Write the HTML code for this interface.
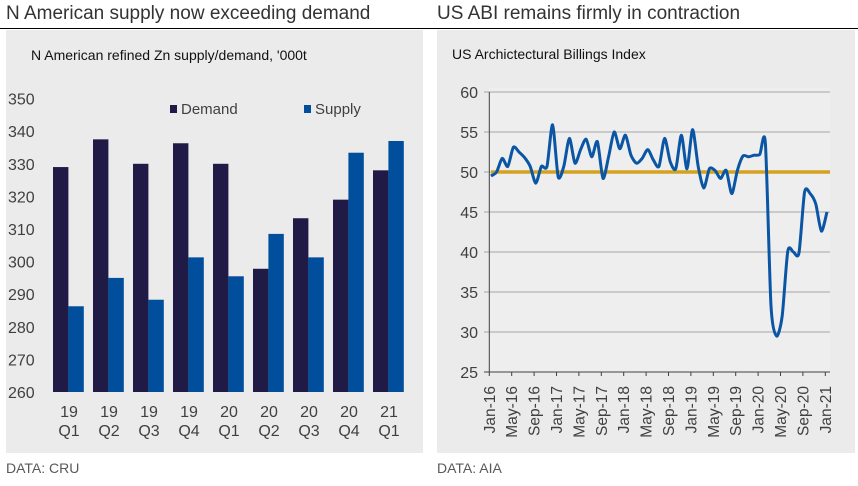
<!DOCTYPE html>
<html><head><meta charset="utf-8"><style>
body{margin:0;width:858px;height:486px;background:#fff;font-family:"Liberation Sans",sans-serif;overflow:hidden;position:relative}
.t{position:absolute;top:3px;font-size:19px;color:#333}
.d{position:absolute;top:460px;font-size:14px;color:#595959}
svg{position:absolute;left:0;top:0}
</style></head><body>
<div class="t" style="left:6px">N American supply now exceeding demand</div>
<div class="t" style="left:437px">US ABI remains firmly in contraction</div>
<div class="d" style="left:6px">DATA: CRU</div>
<div class="d" style="left:437px">DATA: AIA</div>
<svg id="s" width="858" height="486">
<line x1="0" y1="28.5" x2="858" y2="28.5" stroke="#000" stroke-width="1"/>
<rect x="6" y="30" width="417" height="423" fill="#ebebeb"/>
<rect x="437" y="30" width="418" height="423" fill="#ebebeb"/>
<text x="31" y="60" font-size="14" fill="#111">N American refined Zn supply/demand, '000t</text>
<text x="452" y="59" font-size="14" fill="#111">US Archictectural Billings Index</text>
<g id="L"></g><g id="R"></g>
</svg>
<script>
const cats1=["19","19","19","19","20","20","20","20","21"];
const cats2=["Q1","Q2","Q3","Q4","Q1","Q2","Q3","Q4","Q1"];
const demand=[329,337.5,330,336.3,330,297.8,313.3,319,328];
const supply=[286.3,295,288.3,301.3,295.5,308.5,301.3,333.4,337];
const leftTicks=[260,270,280,290,300,310,320,330,340,350];
const abi=[49.5,50.0,51.7,50.7,53.1,52.5,51.8,50.7,48.6,50.7,50.7,55.9,49.4,50.7,54.2,51.1,52.8,54.1,51.9,53.8,49.2,51.9,55.0,52.9,54.6,52.1,51.1,51.7,52.8,51.5,50.7,54.2,51.3,50.4,54.6,50.4,55.3,50.7,48.0,50.4,50.2,49.2,50.2,47.3,50.2,52.0,51.9,52.1,52.2,53.6,33.3,29.5,32.0,40.1,40.0,39.9,47.5,47.3,46.0,42.6,45.0];
const rightTicks=[25,30,35,40,45,50,55,60];
const monthLabels=["Jan-16","May-16","Sep-16","Jan-17","May-17","Sep-17","Jan-18","May-18","Sep-18","Jan-19","May-19","Sep-19","Jan-20","May-20","Sep-20","Jan-21"];
const NS="http://www.w3.org/2000/svg";
function mk(p,t,a){const e=document.createElementNS(NS,t);for(const k in a)e.setAttribute(k,a[k]);p.appendChild(e);return e;}
// left chart
const L=document.getElementById('L');
const yL=v=>392-(v-260)*32.6/10;
const gx=i=>53+i*40;
leftTicks.forEach(v=>{const t=mk(L,'text',{x:8,y:yL(v)+6,'font-size':16,fill:'#404040'});t.textContent=v;

});
demand.forEach((v,i)=>{const r=mk(L,'rect',{x:gx(i),y:yL(v),width:15.4,height:392-yL(v),fill:'#1f1a46'});

});
supply.forEach((v,i)=>{const r=mk(L,'rect',{x:gx(i)+15.4,y:yL(v),width:15.4,height:392-yL(v),fill:'#014f9c'});

});
cats1.forEach((c,i)=>{const a=mk(L,'text',{x:gx(i)+16,y:417,'font-size':16,fill:'#404040','text-anchor':'middle'});a.textContent=c;


const b=mk(L,'text',{x:gx(i)+16,y:436,'font-size':16,fill:'#404040','text-anchor':'middle'});b.textContent=cats2[i];

});
let lg=mk(L,'g',{});


mk(lg,'rect',{x:170,y:105,width:7,height:8,fill:'#1f1a46'});
mk(lg,'text',{x:181,y:114,'font-size':15,fill:'#404040'}).textContent='Demand';
mk(lg,'rect',{x:304,y:105,width:7,height:8,fill:'#014f9c'});
mk(lg,'text',{x:315,y:114,'font-size':15,fill:'#404040'}).textContent='Supply';
// right chart
const R=document.getElementById('R');
mk(R,'rect',{x:489,y:88,width:341,height:284,fill:'#eeeeee'});
const yR=v=>372-(v-25)*8;
const xR=m=>489.3+m*5.6;
rightTicks.forEach(v=>{
if(v>25)mk(R,'line',{x1:484,x2:830,y1:yR(v),y2:yR(v),stroke:'#a6a6a6','stroke-width':1});
else mk(R,'line',{x1:484,x2:830,y1:yR(v),y2:yR(v),stroke:'#404040','stroke-width':1});
const t=mk(R,'text',{x:478,y:yR(v)+6,'font-size':16,fill:'#404040','text-anchor':'end'});t.textContent=v;

});
mk(R,'line',{x1:489.3,x2:489.3,y1:yR(60),y2:yR(25),stroke:'#404040'});
monthLabels.forEach((l,i)=>{const x=xR(i*4);
mk(R,'line',{x1:x,x2:x,y1:372,y2:376,stroke:'#404040'});
const t=mk(R,'text',{x:0,y:0,'font-size':15.5,fill:'#404040','text-anchor':'end',transform:`translate(${x+5.5},${386}) rotate(-90)`});t.textContent=l;

});
const ref=mk(R,'line',{x1:491,x2:830,y1:yR(50),y2:yR(50),stroke:'#d4a220','stroke-width':3.5});


const pts=abi.map((v,i)=>[xR(i+0.3),yR(v)]);
let d='M'+pts[0][0]+','+pts[0][1];
const k=8;
for(let i=0;i<pts.length-1;i++){const p0=pts[Math.max(0,i-1)],p1=pts[i],p2=pts[i+1],p3=pts[Math.min(pts.length-1,i+2)];
d+=` C${p1[0]+(p2[0]-p0[0])/k},${p1[1]+(p2[1]-p0[1])/k} ${p2[0]-(p3[0]-p1[0])/k},${p2[1]-(p3[1]-p1[1])/k} ${p2[0]},${p2[1]}`;}
const ln=mk(R,'path',{d:d,fill:'none',stroke:'#0b56a4','stroke-width':3,'stroke-linejoin':'round'});


</script>
</body></html>
